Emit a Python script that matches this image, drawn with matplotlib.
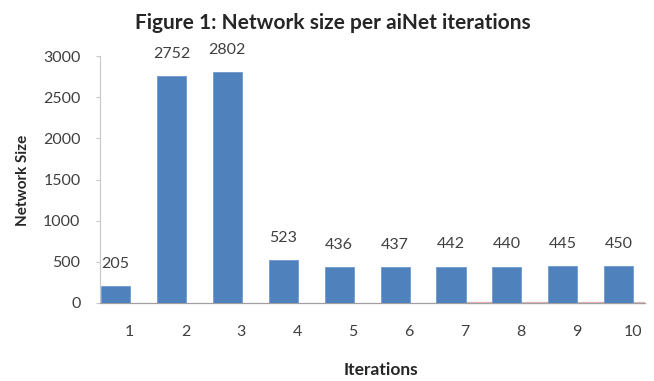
import matplotlib
matplotlib.use("Agg")
import matplotlib.pyplot as plt
import matplotlib.transforms as mtransforms

plt.rcParams['font.family'] = ['Lato', 'DejaVu Sans']

# Network size reached at each aiNet iteration
iterations = [1, 2, 3, 4, 5, 6, 7, 8, 9, 10]
network_size = [205, 2752, 2802, 523, 436, 437, 442, 440, 445, 450]
y_ticks = [0, 500, 1000, 1500, 2000, 2500, 3000]

bar_color = '#4F81BD'
text_color = '#404040'

W, H, DPI = 654, 381, 100
fig = plt.figure(figsize=(W / DPI, H / DPI), dpi=DPI)
ax = fig.add_axes([100 / W, 1 - 303 / H, 545 / W, 247 / H])

ax.bar(iterations, network_size, width=0.52, color=bar_color,
       edgecolor='#6f9bd1', linewidth=0.6, zorder=3)

for x, v in zip(iterations, network_size):
    ax.annotate(str(v), (x, v), xytext=(0, 11), textcoords='offset points',
                ha='center', va='bottom', fontsize=11.5, color=text_color)

ax.set_xlim(0.723, 10.47)
ax.set_ylim(0, 3000)
ax.set_yticks(y_ticks)
ax.set_xticks(iterations)
ax.set_xticklabels([str(i) for i in iterations])

for s in ['top', 'right']:
    ax.spines[s].set_visible(False)
ax.spines['left'].set_color('#c8c8c8')
ax.spines['bottom'].set_color('#a0a0a0')
ax.spines['left'].set_linewidth(0.8)
ax.spines['bottom'].set_linewidth(0.9)

ax.tick_params(axis='y', length=3, width=0.8, color='#c8c8c8', pad=11,
               labelsize=11.5, labelcolor=text_color)
ax.tick_params(axis='x', length=0, pad=16, labelsize=11.5, labelcolor=text_color)

# x labels sit slightly to the right of the bar centers
offset = mtransforms.ScaledTranslation(14 / DPI, 0, fig.dpi_scale_trans)
for lbl in ax.get_xticklabels():
    lbl.set_transform(lbl.get_transform() + offset)

# faint red baseline of the trailing iterations
x0 = iterations[6] + 0.26
ax.plot([x0, 10.47], [0, 0], color='#e6b4b4', linewidth=1.6, zorder=2,
        clip_on=False, solid_capstyle='butt')

fig.text(333 / W, 1 - 23 / H, 'Figure 1: Network size per aiNet iterations',
         ha='center', va='center', fontsize=15, fontweight='bold', color='#262626')
fig.text(23 / W, 1 - 180 / H, 'Network Size', rotation=90, ha='center',
         va='center', fontsize=11, fontweight='bold', color='#262626')
fig.text(381 / W, 1 - 370 / H, 'Iterations', ha='center', va='center',
         fontsize=12.5, fontweight='bold', color='#262626')

fig.savefig('out.png', dpi=DPI)
